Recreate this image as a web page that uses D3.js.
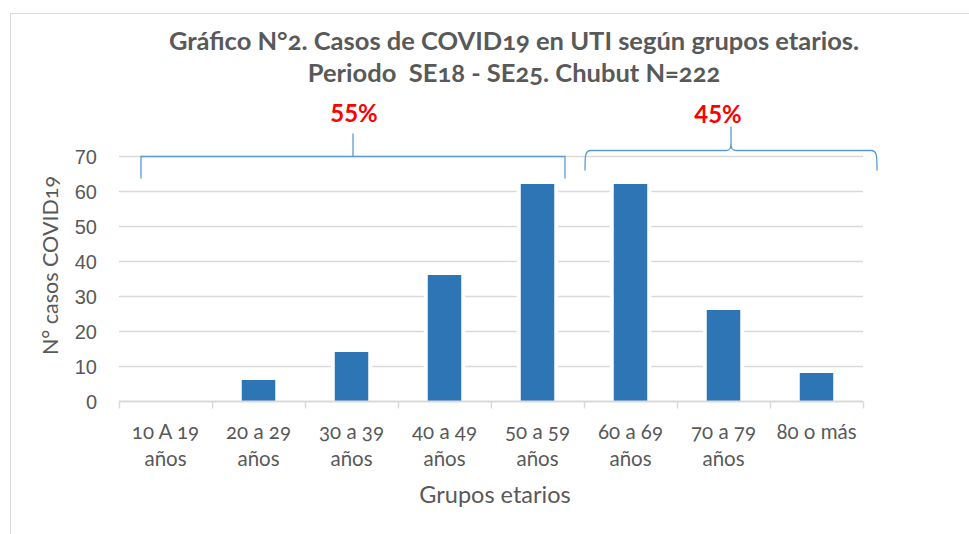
<!DOCTYPE html>
<html>
<head>
<meta charset="utf-8">
<script src="https://cdn.jsdelivr.net/npm/d3@7"></script>
<style>
  body { margin: 0; background: #fff; }
  svg { font-family: Lato, "Open Sans", sans-serif; font-variant-numeric: oldstyle-nums; }
  .axis text { fill: #595959; }
</style>
</head>
<body>
<svg class="chart"></svg>
<script>
const categories = ["10 A 19|años", "20 a 29|años", "30 a 39|años", "40 a 49|años", "50 a 59|años", "60 a 69|años", "70 a 79|años", "80 o más"];
const casos = [0, 6, 14, 36, 62, 62, 26, 8];
const yTicks = [0, 10, 20, 30, 40, 50, 60, 70];
const groups = [
    {from: 0, to: 4, label: "55%", style: "square"},
    {from: 5, to: 7, label: "45%", style: "curly"}
];
const titleLines = ["Gráfico N°2. Casos de COVID19 en UTI según grupos etarios.", "Periodo  SE18 - SE25. Chubut N=222"];

const W = 969, H = 534;
const margin = {top: 156, right: 106, bottom: 133, left: 119};
const width = W - margin.left - margin.right;
const height = H - margin.top - margin.bottom;

const svg = d3.select(".chart").attr("width", W).attr("height", H);

// outer frame (top + left only visible)
svg.append("path")
    .attr("d", `M10.5,${H} V13.5 H${W}`)
    .style("fill", "none").style("stroke", "#D9D9D9");

const chart = svg.append("g").attr("transform", `translate(${margin.left},${margin.top})`);

const x = d3.scaleBand().domain(categories).range([0, width]).paddingInner(0.64).paddingOuter(0.32);
const y = d3.scaleLinear().domain([0, 70]).range([height, 0]);
const step = x.step();
const bandStart = (i) => x(categories[i]) - x.paddingInner() * step / 2;

// gridlines
chart.selectAll(".grid")
    .data(yTicks.slice(1))
    .enter().append("line")
    .attr("class", "grid")
    .attr("x1", 0).attr("x2", width)
    .attr("y1", (d) => Math.round(y(d)) + 0.5).attr("y2", (d) => Math.round(y(d)) + 0.5)
    .style("stroke", "#D9D9D9").style("stroke-width", 1.5);

// y tick labels
const yAxis = chart.append("g").attr("class", "axis")
    .call(d3.axisLeft(y).tickValues(yTicks).tickSize(0).tickPadding(22));
yAxis.select(".domain").remove();
yAxis.selectAll("text").style("font-size", "20px").attr("dy", "0.35em");

// bars (white halo breaks gridlines like the original)
chart.selectAll(".halo")
    .data(casos)
    .enter().append("rect")
    .attr("x", (d, i) => x(categories[i]) - 4)
    .attr("y", (d) => y(d))
    .attr("width", x.bandwidth() + 8)
    .attr("height", (d) => height - y(d))
    .style("fill", d => d > 0 ? "#fff" : "none");

chart.selectAll(".bar")
    .data(casos)
    .enter().append("rect")
    .attr("class", "bar")
    .attr("x", (d, i) => x(categories[i]))
    .attr("y", (d) => y(d))
    .attr("width", x.bandwidth())
    .attr("height", (d) => height - y(d))
    .style("fill", "#2E75B6");

// x axis line + ticks
const base = Math.round(y(0)) + 0.5;
chart.append("line")
    .attr("x1", 0).attr("x2", width).attr("y1", base).attr("y2", base)
    .style("stroke", "#D9D9D9").style("stroke-width", 2);
chart.selectAll(".xtick")
    .data(d3.range(categories.length + 1))
    .enter().append("line")
    .attr("x1", (i) => Math.round(i * step) + 0.5).attr("x2", (i) => Math.round(i * step) + 0.5)
    .attr("y1", base).attr("y2", base + 7)
    .style("stroke", "#D9D9D9").style("stroke-width", 1.5);

// x labels (two lines)
const xl = chart.selectAll(".xlabel")
    .data(categories)
    .enter().append("text")
    .attr("class", "xlabel")
    .attr("text-anchor", "middle")
    .attr("transform", (d) => `translate(${x(d) + x.bandwidth() / 2},${height + 38})`)
    .style("font-size", "20.5px").style("fill", "#595959");
xl.selectAll("tspan")
    .data((d) => d.split("|"))
    .enter().append("tspan")
    .attr("x", 0)
    .attr("dy", (d, i) => i === 0 ? 0 : 27)
    .text((d) => d);

// axis titles
chart.append("text")
    .attr("x", width / 2 + 4).attr("y", height + 102)
    .attr("text-anchor", "middle")
    .style("font-size", "23.5px").style("fill", "#595959")
    .text("Grupos etarios");

chart.append("text")
    .attr("transform", `translate(-61,${height / 2 - 13}) rotate(-90)`)
    .attr("text-anchor", "middle")
    .style("font-size", "21.5px").style("fill", "#595959")
    .text("N° casos COVID19");

// title
svg.selectAll(".title")
    .data(titleLines)
    .enter().append("text")
    .attr("class", "title")
    .attr("x", 514).attr("y", (d, i) => 50 + i * 32)
    .attr("text-anchor", "middle")
    .style("font-size", "25.5px").style("font-weight", "bold").style("fill", "#595959")
    .style("white-space", "pre")
    .text((d) => d);

// group brackets
groups.forEach((g) => {
    let path, x0, x1, mid, yTop;
    if (g.style === "square") {
        x0 = bandStart(g.from) + 22;
        x1 = bandStart(g.to) + step - 19;
        mid = (x0 + x1) / 2;
        const yl = Math.round(y(70)) + 0.5;
        path = `M${x0},${yl + 22} V${yl} H${x1} V${yl + 22} M${mid},${yl} V${yl - 23}`;
        yTop = yl - 35;
    } else {
        x0 = bandStart(g.from) + 1;
        x1 = bandStart(g.to) + step + 14;
        mid = (x0 + x1) / 2;
        const yl = Math.round(y(70)) - 5.5;
        path = `M${x0},${yl + 20} C${x0},${yl + 5} ${x0},${yl} ${x0 + 6},${yl} H${mid - 5}` +
            ` C${mid - 1},${yl} ${mid},${yl - 2} ${mid},${yl - 8} V${yl - 24}` +
            ` M${mid},${yl - 8} C${mid},${yl - 2} ${mid + 1},${yl} ${mid + 5},${yl} H${x1 - 6}` +
            ` C${x1},${yl} ${x1},${yl + 5} ${x1},${yl + 20}`;
        yTop = yl - 28;
    }
    chart.append("path").attr("d", path)
        .style("fill", "none").style("stroke", "#5B9BD5").style("stroke-width", 1.3);
    chart.append("text")
        .attr("x", g.style === "square" ? mid + 1 : mid - 13).attr("y", yTop)
        .attr("text-anchor", "middle")
        .style("font-size", "24px").style("font-weight", "bold").style("fill", "#FF0000")
        .style("font-variant-numeric", "lining-nums")
        .text(g.label);
});
</script>
</body>
</html>
